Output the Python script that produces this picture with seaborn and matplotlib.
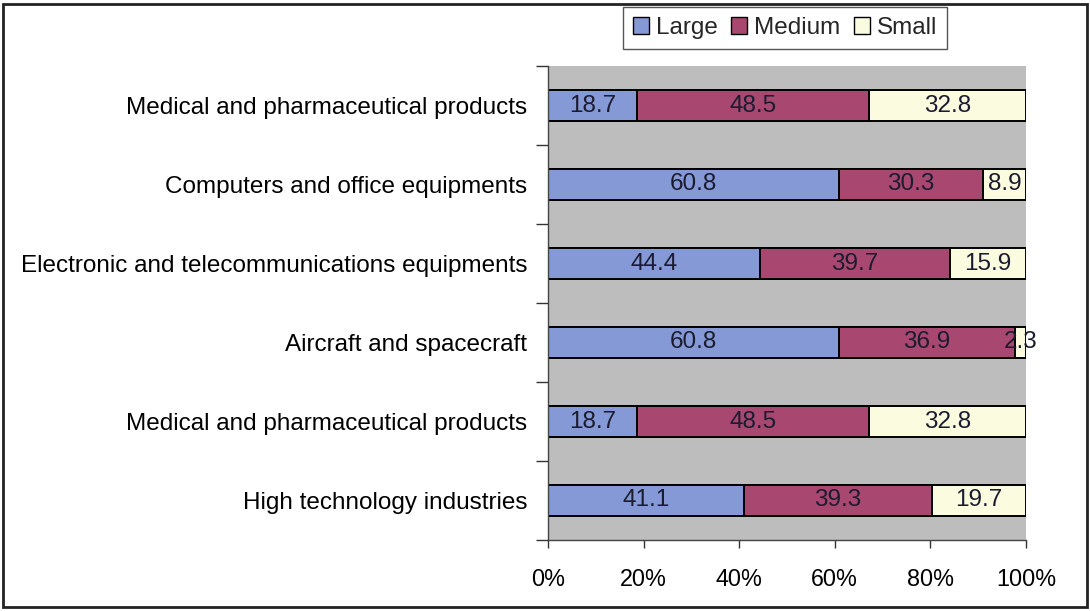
import numpy as np
import pandas as pd
import matplotlib
matplotlib.use("Agg")
import matplotlib.pyplot as plt
from matplotlib.patches import Rectangle, Patch
from matplotlib.ticker import FixedLocator, PercentFormatter
import seaborn as sns

# Industries, listed top to bottom
industries = [
    "Medical and pharmaceutical products",
    "Computers and office equipments",
    "Electronic and telecommunications equipments",
    "Aircraft and spacecraft",
    "Medical and pharmaceutical products",
    "High technology industries",
]
large = [18.7, 60.8, 44.4, 60.8, 18.7, 41.1]
medium = [48.5, 30.3, 39.7, 36.9, 48.5, 39.3]
small = [32.8, 8.9, 15.9, 2.3, 32.8, 19.7]

series_names = ["Large", "Medium", "Small"]
colors = {"Large": "#8499D6", "Medium": "#A84870", "Small": "#FBFBE0"}
bg_grey = "#BDBDBD"
label_color = "#1C1C30"
fs = 17.5

sns.set_theme(style="white")
plt.rcParams["font.family"] = ["Liberation Sans", "DejaVu Sans"]

# Shares of each row as percent of its total (100% stacked)
df = pd.DataFrame({"Large": large, "Medium": medium, "Small": small})
totals = df.sum(axis=1)
shares = df.div(totals, axis=0) * 100
df["row"] = [f"r{i}" for i in range(len(industries))]
cum = shares.cumsum(axis=1)
for s in series_names:
    df[f"{s}_cum"] = cum[s]
    df[f"{s}_share"] = shares[s]

fig = plt.figure(figsize=(10.9, 6.11), dpi=100)
ax = fig.add_axes([548 / 1090, 1 - 540 / 611, 478 / 1090, 474 / 611])
ax.set_facecolor(bg_grey)

order = list(df["row"])
# Draw cumulative totals from widest to narrowest so segments stack
for s in reversed(series_names):
    sns.barplot(data=df, x=f"{s}_cum", y="row", order=order, orient="h",
                color=colors[s], saturation=1, width=0.39,
                edgecolor="black", linewidth=1.4, ax=ax)

# Centered value labels in each segment
for i, r in df.iterrows():
    left = 0.0
    for s in series_names:
        w = df.loc[i, f"{s}_share"]
        ax.text(left + w / 2, i, f"{r[s]:.1f}", ha="center", va="center",
                fontsize=fs, color=label_color)
        left += w

ax.set_xlim(0, 100)
ax.set_ylim(len(industries) - 0.5, -0.5)
ax.xaxis.set_major_locator(FixedLocator([0, 20, 40, 60, 80, 100]))
ax.xaxis.set_major_formatter(PercentFormatter(decimals=0))
ax.set_yticks(range(len(industries)))
ax.set_yticklabels(industries)
ax.yaxis.set_minor_locator(FixedLocator(np.arange(-0.5, len(industries), 1.0)))
ax.tick_params(axis="y", which="major", length=0, pad=15, labelsize=fs, labelcolor="black")
ax.tick_params(axis="y", which="minor", length=9, width=1, color="#333333", left=True)
ax.tick_params(axis="x", which="major", length=6, width=1, color="#333333", bottom=True,
               pad=14, labelsize=16.8, labelcolor="black")
ax.set_xlabel("")
ax.set_ylabel("")
for side in ["top", "right"]:
    ax.spines[side].set_visible(False)
for side in ["left", "bottom"]:
    ax.spines[side].set_visible(True)
    ax.spines[side].set_color("#444444")
    ax.spines[side].set_linewidth(1.0)

handles = [Patch(facecolor=colors[s], edgecolor="black", linewidth=1.0) for s in series_names]
fig.legend(handles, series_names, loc="center", bbox_to_anchor=(785 / 1090, 1 - 28 / 611),
           ncol=3, frameon=True, fancybox=False, edgecolor="#555555", fontsize=fs,
           handlelength=0.65, handleheight=0.65, handletextpad=0.3, columnspacing=0.55,
           borderpad=0.42, framealpha=1)

# Outer border of the figure
fig.patches.append(Rectangle((3 / 1090, 4 / 611), 1084 / 1090, 603 / 611,
                             transform=fig.transFigure, fill=False,
                             edgecolor="#222222", linewidth=2))

fig.savefig("out.png", dpi=100, facecolor="white")
